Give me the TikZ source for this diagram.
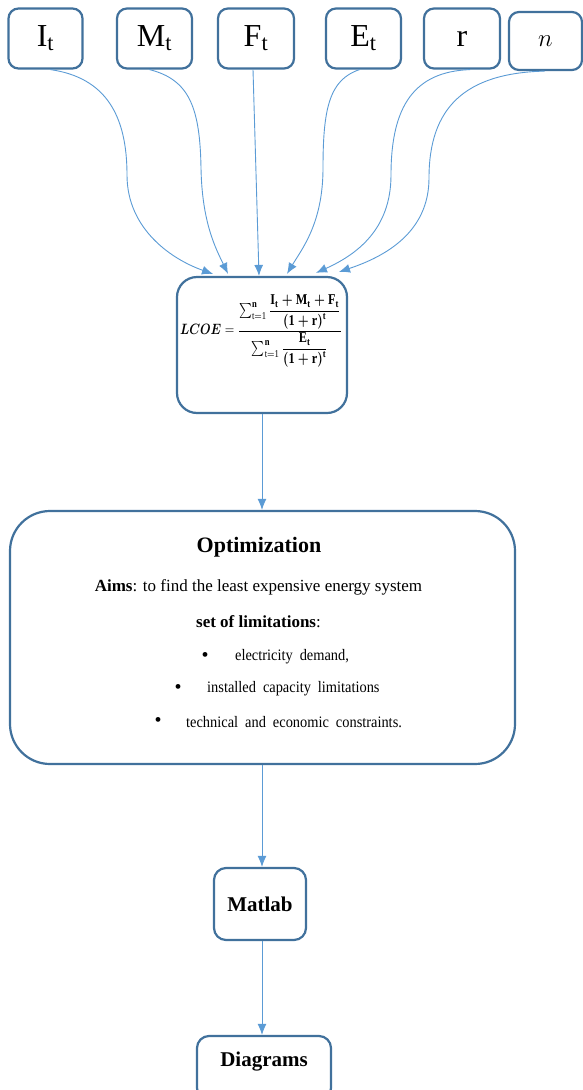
\documentclass[tikz,border=0pt]{standalone}
\usepackage{fontspec}
\setmainfont{Liberation Serif}
\newfontfamily\narrowserif[FakeStretch=0.9]{Liberation Serif}
\usepackage{amsmath}
\usepackage{graphicx}
\usetikzlibrary{arrows.meta}
\definecolor{boxline}{HTML}{41719C}
\definecolor{linkline}{HTML}{5B9BD5}
\begin{document}
\begin{tikzpicture}[x=1pt,y=-1pt,
  box/.style={draw=boxline, line width=2.2pt, rounded corners=10pt, fill=white, inner sep=0pt},
  varbox/.style={box, minimum width=74pt, minimum height=60pt, font=\fontsize{32}{36}\selectfont},
  conn/.style={draw=linkline, line width=0.9pt, -{Latex[length=11pt,width=9pt]}},
  title/.style={font=\fontsize{22}{26}\selectfont\bfseries, inner sep=0pt},
  body/.style={font=\fontsize{17}{20}\selectfont, inner sep=0pt},
  item/.style={font=\fontsize{16}{18}\narrowserif, inner sep=0pt, anchor=west},
  dot/.style={font=\fontsize{20}{22}\selectfont, inner sep=0pt}]
\useasboundingbox (0,0) rectangle (582,1090);

% input variables
\node[varbox] (It) at (45.5,38.5) {$\mathrm{I}_{\mathrm{t}}$};
\node[varbox, minimum width=75pt] (Mt) at (154.5,38.5) {$\mathrm{M}_{\mathrm{t}}$};
\node[varbox, minimum width=76pt] (Ft) at (256,38.5) {$\mathrm{F}_{\mathrm{t}}$};
\node[varbox, minimum width=75pt] (Et) at (363.5,38.5) {$\mathrm{E}_{\mathrm{t}}$};
\node[varbox, minimum width=76pt] (r) at (462,38.5) {$\mathrm{r}$};
\node[varbox, minimum width=73pt, minimum height=58pt] (n) at (545.5,41) {$n$};

% levelised cost formula
\node[box, rounded corners=20pt, minimum width=170pt, minimum height=136pt] (L) at (262,345) {};
\node[inner sep=0pt] (Lf) at (261,331) {\resizebox*{162pt}{72pt}{$\boldsymbol{LCOE}=\dfrac{\sum\nolimits_{\mathrm{t=1}}^{\mathbf{n}}\dfrac{\boldsymbol{\mathrm{I_t+M_t+F_t}}}{\boldsymbol{\mathrm{(1+r)^t}}}}{\sum\nolimits_{\mathrm{t=1}}^{\mathbf{n}}\dfrac{\boldsymbol{\mathrm{E_t}}}{\boldsymbol{\mathrm{(1+r)^t}}}}$}};

% optimisation stage
\node[box, rounded corners=40pt, minimum width=505pt, minimum height=253pt] (O) at (262.5,637.5) {};
\node[title] (Ot) at (259,547) {Optimization};
\node[body] (Oa) at (258.5,587) {\textbf{Aims}: to find the least expensive energy system};
\node[body] (Os) at (258.5,622) {\textbf{set of limitations}:};
\node[dot] (b1) at (205,657) {•};
\node[item] (i1) at (235,657) {electricity\hspace{7pt}demand,};
\node[dot] (b2) at (178,689) {•};
\node[item] (i2) at (207,689) {installed\hspace{7pt}capacity\hspace{7pt}limitations};
\node[dot] (b3) at (158,722) {•};
\node[item] (i3) at (186,722) {technical\hspace{7pt}and\hspace{7pt}economic\hspace{7pt}constraints.};

% tools and results
\node[box, rounded corners=12pt, minimum width=92pt, minimum height=72pt, font=\fontsize{21}{24}\selectfont\bfseries] (M) at (260,904) {Matlab};
\node[box, rounded corners=12pt, minimum width=134pt, minimum height=64pt, font=\fontsize{21}{24}\selectfont\bfseries, text depth=18pt] (D) at (264,1068) {Diagrams};

% waypoints of the curved inputs
\coordinate (wI) at (127,175);
\coordinate (wM) at (201,168);
\coordinate (wE) at (323,168);
\coordinate (wR) at (391,175);
\coordinate (wN) at (429,178);

\draw[conn] ([xshift=5pt]It.south) .. controls +(55,8) and +(0,-60) .. (wI) .. controls +(0,55) and +(-40,-14) .. ([xshift=-49pt,yshift=2pt]L.north);
\draw[conn] ([xshift=-5pt]Mt.south) .. controls +(40,10) and +(-1,-60) .. (wM) .. controls +(1,55) and +(-12,-25) .. ([xshift=-34pt,yshift=2pt]L.north);
\draw[conn] ([xshift=-3pt]Ft.south) -- ([xshift=-3pt]L.north);
\draw[conn] ([xshift=-4pt]Et.south) .. controls +(-30,10) and +(0,-60) .. (wE) .. controls +(0,55) and +(15,-25) .. ([xshift=25pt,yshift=2pt]L.north);
\draw[conn] ([xshift=8pt]r.south) .. controls +(-55,2) and +(0,-70) .. (wR) .. controls +(0,55) and +(40,-18) .. ([xshift=54pt,yshift=3pt]L.north);
\draw[conn] ([xshift=-1pt]n.south) .. controls +(-80,2) and +(0,-70) .. (wN) .. controls +(0,55) and +(45,-15) .. ([xshift=77pt,yshift=4pt]L.north);

% main flow
\draw[conn] (L.south) -- (O.north -| L.south);
\draw[conn] (O.south -| L.south) -- (M.north -| L.south);
\draw[conn] (M.south -| L.south) -- (D.north -| L.south);
\end{tikzpicture}
\end{document}
